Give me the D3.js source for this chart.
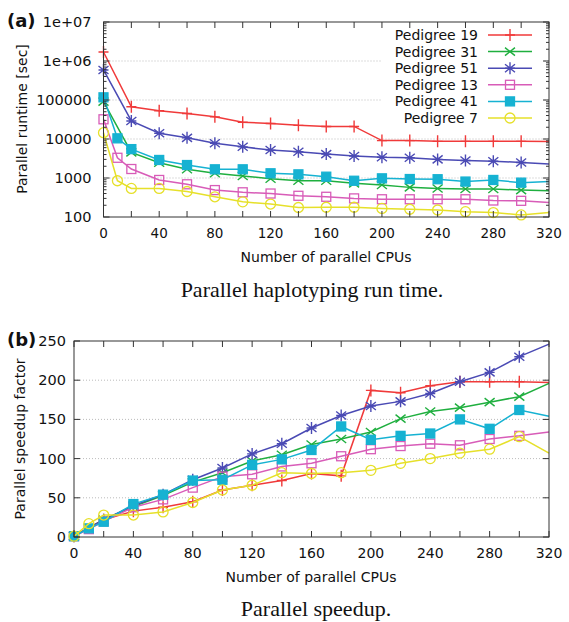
<!DOCTYPE html>
<html>
<head>
<meta charset="utf-8">
<script src="https://cdn.jsdelivr.net/npm/d3@7"></script>
<style>
  body { margin: 0; background: #fff; }
  text { font-family: "DejaVu Sans", sans-serif; fill: #111; }
  .caption { font-family: "Liberation Serif", "DejaVu Serif", serif; font-size: 22px; }
</style>
</head>
<body>
<div id="chart"></div>
<script>
// number of parallel CPUs (x)
var cpus = [0, 10, 20, 40, 60, 80, 100, 120, 140, 160, 180, 200, 220, 240, 260, 280, 300, 320];

// panel (a) runtimes in seconds, null = no measurement
var runtime19 = [1700000, null, 67000, 53000, 45000, 37000, 27000, 25000, 22400, 21000, 21000, 9100, 9100, 8700, 8700, 8700, 8700, 8600];
var runtime31 = [91000, null, 4550, 2460, 1670, 1320, 1130, 960, 850, 850, 730, 660, 575, 540, 520, 520, 490, 470];
var runtime51 = [590000, null, 29000, 14000, 10700, 7800, 6300, 5200, 4700, 4100, 3650, 3400, 3300, 3000, 2800, 2700, 2500, 2300];
var runtime13 = [32000, 3300, 1700, 890, 690, 490, 430, 400, 350, 330, 300, 285, 285, 285, 285, 265, 260, 235];
var runtime41 = [117000, 10400, 5500, 2900, 2150, 1670, 1670, 1320, 1240, 1080, 850, 980, 940, 930, 810, 890, 760, 810];
var runtime7  = [14500, 850, 540, 540, 450, 330, 245, 215, 175, 178, 178, 166, 158, 151, 137, 130, 113, 130];

// panel (b) speedup factors
var speedup19 = [1, null, 22, 33, 38, 45, 60, 66, 72, 81, 78, 187, 184, 193, 198, 198, 198, 197];
var speedup31 = [1, null, 22, 39, 53, 70, 82, 97, 105, 118, 125, 134, 151, 160, 165, 172, 179, 196];
var speedup51 = [1, null, 22, 40, 54, 73, 88, 106, 119, 139, 155, 167, 173, 183, 198, 210, 230, 246];
var speedup13 = [1, 10, 20, 38, 48, 63, 77, 80, 90, 94, 103, 112, 116, 119, 117, 125, 129, 134];
var speedup41 = [1, 11, 19.5, 42, 54, 72, 73, 92, 99, 111, 141, 124, 129, 132, 150, 138, 162, 154];
var speedup7  = [1, 17, 28, 28, 32, 44, 60, 66, 82, 81, 82, 85, 94, 100, 107, 112, 128, 107];

var seriesNames = ["Pedigree 19", "Pedigree 31", "Pedigree 51", "Pedigree 13", "Pedigree 41", "Pedigree 7"];
var seriesColors = ["#f03a3a", "#1faf3f", "#4a4ab4", "#d85cb8", "#16b2d2", "#e6e02a"];
var seriesMarkers = ["plus", "cross", "star", "square", "filledSquare", "circle"];

var logTicks = [100, 1000, 10000, 100000, 1000000, 10000000];
var logTickLabels = ["100", "1000", "10000", "100000", "1e+06", "1e+07"];
var speedTicks = [0, 50, 100, 150, 200, 250];
var cpuTicks = [0, 20, 40, 60, 80, 100, 120, 140, 160, 180, 200, 220, 240, 260, 280, 300, 320];

var svg = d3.select("#chart").append("svg")
    .attr("width", 569)
    .attr("height", 622);

function drawMarker(g, type, color, x, y){
    if (type == "plus"){
        g.append("path").attr("d", "M" + (x-5) + "," + y + "H" + (x+5) + "M" + x + "," + (y-6) + "V" + (y+6))
        .style("stroke", color).style("stroke-width", 1.4).style("fill", "none");
    }
    else if (type == "cross"){
        g.append("path").attr("d", "M" + (x-5) + "," + (y-4) + "L" + (x+5) + "," + (y+4) + "M" + (x-5) + "," + (y+4) + "L" + (x+5) + "," + (y-4))
        .style("stroke", color).style("stroke-width", 1.4).style("fill", "none");
    }
    else if (type == "star"){
        g.append("path").attr("d", "M" + (x-5) + "," + y + "H" + (x+5) + "M" + x + "," + (y-6) + "V" + (y+6)
            + "M" + (x-5) + "," + (y-4) + "L" + (x+5) + "," + (y+4) + "M" + (x-5) + "," + (y+4) + "L" + (x+5) + "," + (y-4))
        .style("stroke", color).style("stroke-width", 1.4).style("fill", "none");
    }
    else if (type == "square" || type == "filledSquare"){
        g.append("rect").attr("x", x-4.5).attr("y", y-4.5).attr("width", 9).attr("height", 9)
        .style("stroke", color).style("stroke-width", 1.3)
        .style("fill", type == "filledSquare" ? color : "none");
    }
    else {
        g.append("circle").attr("cx", x).attr("cy", y).attr("r", 5)
        .style("stroke", color).style("stroke-width", 1.3).style("fill", "none");
    }
}

function drawPanel(p){
    var g = svg.append("g");
    var x = d3.scaleLinear().domain([0, 320]).range([p.left, p.right]);
    var y = p.y;

    //dotted grid lines
    g.selectAll(".grid").data(p.gridValues).enter().append("line")
    .attr("x1", p.left).attr("x2", p.right)
    .attr("y1", function(d){ return y(d); }).attr("y2", function(d){ return y(d); })
    .style("stroke", "#aaa").style("stroke-width", 0.8).style("stroke-dasharray", "1,2");

    //white legend background hides the grid
    if (p.legend){
        g.append("rect").attr("x", 381).attr("y", 26).attr("width", 162).attr("height", 100).style("fill", "white");
    }

    //lines and markers
    p.series.forEach(function(values, i){
        var pts = cpus.map(function(c, j){ return [c, values[j]]; }).filter(function(d){ return d[1] != null; });
        var line = d3.line().x(function(d){ return x(d[0]); }).y(function(d){ return y(d[1]); });
        g.append("path").datum(pts).attr("d", line)
        .style("fill", "none").style("stroke", seriesColors[i]).style("stroke-width", 1.5);
        pts.forEach(function(d){
            if (d[0] < 320) drawMarker(g, seriesMarkers[i], seriesColors[i], x(d[0]), y(d[1]));
        });
    });

    //frame
    g.append("rect").attr("x", p.left).attr("y", p.top)
    .attr("width", p.right - p.left).attr("height", p.bottom - p.top)
    .style("fill", "none").style("stroke", "#333").style("stroke-width", 1);

    //x ticks, bottom and top
    cpuTicks.forEach(function(t){
        g.append("line").attr("x1", x(t)).attr("x2", x(t)).attr("y1", p.bottom).attr("y2", p.bottom - 6)
        .style("stroke", "#333");
        g.append("line").attr("x1", x(t)).attr("x2", x(t)).attr("y1", p.top).attr("y2", p.top + 6)
        .style("stroke", "#333");
        if (t % 40 == 0){
            g.append("text").attr("x", x(t)).attr("y", p.bottom + 21)
            .style("text-anchor", "middle").style("font-size", p.xTickSize).text(t);
        }
    });

    //y ticks, left and right
    p.yTicks.forEach(function(t, i){
        g.append("line").attr("x1", p.left).attr("x2", p.left + 6).attr("y1", y(t)).attr("y2", y(t)).style("stroke", "#333");
        g.append("line").attr("x1", p.right).attr("x2", p.right - 6).attr("y1", y(t)).attr("y2", y(t)).style("stroke", "#333");
        g.append("text").attr("x", p.left - p.labelGap).attr("y", y(t) + 5)
        .style("text-anchor", "end").style("font-size", "14.5px").text(p.yTickLabels[i]);
    });
    (p.minorTicks || []).forEach(function(t){
        g.append("line").attr("x1", p.left).attr("x2", p.left + 3).attr("y1", y(t)).attr("y2", y(t)).style("stroke", "#333");
        g.append("line").attr("x1", p.right).attr("x2", p.right - 3).attr("y1", y(t)).attr("y2", y(t)).style("stroke", "#333");
    });

    //axis titles
    g.append("text").attr("x", p.xLabelX).attr("y", p.bottom + 45)
    .style("text-anchor", "middle").style("font-size", "14px").text("Number of parallel CPUs");
    g.append("text").attr("transform", "translate(" + p.yLabelX + "," + p.yLabelY + ") rotate(-90)")
    .style("text-anchor", "middle").style("font-size", "14px").text(p.yLabel);

    //panel letter and caption
    g.append("text").attr("x", 7).attr("y", p.top + 5)
    .style("font-size", "18px").style("font-weight", "bold").text(p.letter);
    g.append("text").attr("class", "caption").attr("x", p.captionX).attr("y", p.captionY)
    .style("text-anchor", "middle").text(p.caption);

    //legend
    if (p.legend){
        seriesNames.forEach(function(name, i){
            var ly = 35 + i * 16.6;
            g.append("text").attr("x", 478).attr("y", ly + 5)
            .style("text-anchor", "end").style("font-size", "14px").text(name);
            g.append("line").attr("x1", 488).attr("x2", 532).attr("y1", ly).attr("y2", ly)
            .style("stroke", seriesColors[i]).style("stroke-width", 1.5);
            drawMarker(g, seriesMarkers[i], seriesColors[i], 510, ly);
        });
    }
}

var minorLog = [];
logTicks.slice(0, -1).forEach(function(t){
    for (var k = 2; k < 10; k++) minorLog.push(t * k);
});

drawPanel({
    left: 103.5, right: 549, top: 22, bottom: 217,
    y: d3.scaleLog().domain([100, 10000000]).range([217, 22]),
    series: [runtime19, runtime31, runtime51, runtime13, runtime41, runtime7],
    gridValues: [1000, 10000, 100000, 1000000],
    yTicks: logTicks, yTickLabels: logTickLabels, minorTicks: minorLog, labelGap: 12,
    xTickSize: "13.5px", xLabelX: 326,
    yLabel: "Parallel runtime [sec]", yLabelX: 27, yLabelY: 119,
    letter: "(a)", caption: "Parallel haplotyping run time.", captionX: 312, captionY: 297,
    legend: true
});

drawPanel({
    left: 74, right: 549, top: 341, bottom: 537,
    y: d3.scaleLinear().domain([0, 250]).range([537, 341]),
    series: [speedup19, speedup31, speedup51, speedup13, speedup41, speedup7],
    gridValues: [50, 100, 150, 200],
    yTicks: speedTicks, yTickLabels: speedTicks.map(String), labelGap: 8,
    xTickSize: "14px", xLabelX: 311,
    yLabel: "Parallel speedup factor", yLabelX: 25, yLabelY: 439,
    letter: "(b)", caption: "Parallel speedup.", captionX: 316, captionY: 616,
    legend: false
});
</script>
</body>
</html>
